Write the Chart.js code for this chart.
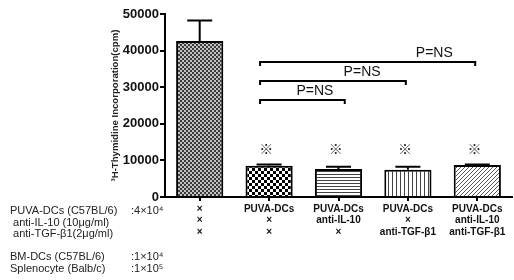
<!DOCTYPE html>
<html><head><meta charset="utf-8">
<script src="https://cdn.jsdelivr.net/npm/chart.js@4.4.1/dist/chart.umd.min.js"></script>
<style>html,body{margin:0;padding:0;background:#fff;}#wrap{width:514px;height:280px;position:relative;}</style>
</head><body><div id="wrap"><canvas id="c" width="514" height="280"></canvas></div>
<script>
// ---- data ----
const labelRow1 = ['×', 'PUVA-DCs', 'PUVA-DCs', 'PUVA-DCs', 'PUVA-DCs'];
const labelRow2 = ['×', '×', 'anti-IL-10', '×', 'anti-IL-10'];
const labelRow3 = ['×', '×', '×', 'anti-TGF-β1', 'anti-TGF-β1'];
const means = [42600, 8550, 7650, 7450, 8750];
const errUp = [5600, 350, 600, 800, 150];
const yTicks = [0, 10000, 20000, 30000, 40000, 50000];
const yTitle = '³H-Thymidine Incorporation(cpm)';
const sigMarkIdx = [1, 2, 3, 4];
const sigMarkY = 13100;
const bracketFrom = [1, 1, 1];
const bracketTo = [2, 3, 4];
const bracketY = [26500, 31700, 36900];
const bracketText = ['P=NS', 'P=NS', 'P=NS'];
const bracketTextX = [1.66, 2.34, 3.38];
const leftRows = [
  ['PUVA-DCs (C57BL/6)', ':4×10⁴'],
  [' anti-IL-10 (10μg/ml)', ''],
  [' anti-TGF-β1(2μg/ml)', ''],
  ['BM-DCs (C57BL/6)', ':1×10⁴'],
  ['Splenocyte (Balb/c)', ':1×10⁵']
];

const labels = labelRow1.map((v, i) => [v, labelRow2[i], labelRow3[i]]);

function mkPattern(w, h, draw) {
  const c = document.createElement('canvas'); c.width = w; c.height = h;
  const g = c.getContext('2d'); draw(g, w, h);
  return document.getElementById('c').getContext('2d').createPattern(c, 'repeat');
}
const patterns = [
  mkPattern(4, 4, (g) => { g.fillStyle = '#c4c4c4'; g.fillRect(0,0,4,4); g.fillStyle = '#3a3a3a'; g.fillRect(0,0,2,2); g.fillRect(2,2,2,2); }),
  mkPattern(6, 6, (g) => { g.fillStyle = '#fff'; g.fillRect(0,0,6,6); g.fillStyle = '#000'; g.fillRect(0,0,3,3); g.fillRect(3,3,3,3); }),
  mkPattern(3, 3, (g) => { g.fillStyle = '#fff'; g.fillRect(0,0,3,3); g.fillStyle = '#444'; g.fillRect(0,0,3,1); }),
  mkPattern(4, 4, (g) => { g.fillStyle = '#fff'; g.fillRect(0,0,4,4); g.fillStyle = '#444'; g.fillRect(0,0,1,4); }),
  mkPattern(4, 4, (g) => { g.fillStyle = '#fff'; g.fillRect(0,0,4,4); g.fillStyle = '#555'; g.fillRect(3,0,1,1); g.fillRect(2,1,1,1); g.fillRect(1,2,1,1); g.fillRect(0,3,1,1); })
];

const FONT = "'Liberation Sans', Arial, sans-serif";

const annot = {
  id: 'annot',
  afterDatasetsDraw(chart) {
    const ctx = chart.ctx, x = chart.scales.x, y = chart.scales.y, ca = chart.chartArea;
    const x0 = x.getPixelForValue(0), step = x.getPixelForValue(1) - x0;
    const px = (v) => x0 + v * step;
    ctx.save();
    ctx.strokeStyle = '#000'; ctx.lineWidth = 2; ctx.lineCap = 'butt';
    // error bars
    means.forEach((m, i) => {
      const cx = px(i), yt = y.getPixelForValue(m), ye = y.getPixelForValue(m + errUp[i]);
      ctx.beginPath(); ctx.moveTo(cx, yt); ctx.lineTo(cx, ye);
      ctx.moveTo(cx - 12.5, ye); ctx.lineTo(cx + 12.5, ye); ctx.stroke();
    });
    // brackets
    bracketY.forEach((bv, k) => {
      const yy = y.getPixelForValue(bv), xa = px(bracketFrom[k] - 0.13), xb = px(bracketTo[k] + (k === 0 ? 0.09 : -0.03));
      ctx.beginPath(); ctx.moveTo(xa, yy + 4); ctx.lineTo(xa, yy); ctx.lineTo(xb, yy); ctx.lineTo(xb, yy + 4); ctx.stroke();
      ctx.fillStyle = '#111'; ctx.font = '14px ' + FONT; ctx.textAlign = 'center'; ctx.textBaseline = 'bottom';
      ctx.fillText(bracketText[k], px(bracketTextX[k]), yy - 2);
    });
    // significance marks
    ctx.fillStyle = '#2a2a2a'; ctx.font = "14px 'Noto Sans CJK JP', sans-serif"; ctx.textAlign = 'center'; ctx.textBaseline = 'middle';
    sigMarkIdx.forEach((i) => ctx.fillText('※', px(i - 0.04), y.getPixelForValue(sigMarkY)));
    // y title
    ctx.save();
    ctx.translate(115, (ca.top + ca.bottom) / 2); ctx.rotate(-Math.PI / 2);
    ctx.fillStyle = '#222'; ctx.font = 'bold 9.6px ' + FONT; ctx.textAlign = 'center'; ctx.textBaseline = 'middle';
    ctx.fillText(yTitle, 0, 0);
    ctx.restore();
    // left table labels
    ctx.fillStyle = '#222'; ctx.font = '11px ' + FONT; ctx.textAlign = 'left'; ctx.textBaseline = 'middle';
    const rowY = [211, 223, 234, 257, 269];
    leftRows.forEach((r, i) => { ctx.fillText(r[0], 10, rowY[i]); if (r[1]) ctx.fillText(r[1], 131, rowY[i]); });
    ctx.restore();
  }
};

new Chart(document.getElementById('c'), {
  type: 'bar',
  data: { labels: labels, datasets: [{ data: means, backgroundColor: patterns, borderColor: '#000', borderWidth: 2, barPercentage: 0.68, categoryPercentage: 1 }] },
  options: {
    responsive: false, animation: false, devicePixelRatio: 1,
    layout: { padding: { left: 0, right: 2, top: 14, bottom: 0 } },
    plugins: { legend: { display: false }, tooltip: { enabled: false } },
    scales: {
      x: {
        offset: true,
        grid: { display: true, offset: false, drawOnChartArea: false, drawTicks: true, tickLength: 4, color: '#000', lineWidth: 2 },
        border: { display: true, color: '#000', width: 2 },
        ticks: { autoSkip: false, maxRotation: 0, minRotation: 0, padding: 2, color: '#111', font: { family: FONT, size: 10, weight: 'bold', lineHeight: 1.17 } },
        afterFit(s) { s.height = 83; }
      },
      y: {
        min: 0, max: 50000,
        afterBuildTicks(s) { s.ticks = yTicks.map(v => ({ value: v })); },
        grid: { display: true, drawOnChartArea: false, drawTicks: true, tickLength: 5, color: '#000', lineWidth: 2 },
        border: { display: true, color: '#000', width: 2 },
        ticks: { padding: 1, color: '#111', font: { family: FONT, size: 13, weight: 'bold' }, callback: (v) => String(v) },
        afterFit(s) { s.width = 165; }
      }
    }
  },
  plugins: [annot]
});
</script></body></html>
